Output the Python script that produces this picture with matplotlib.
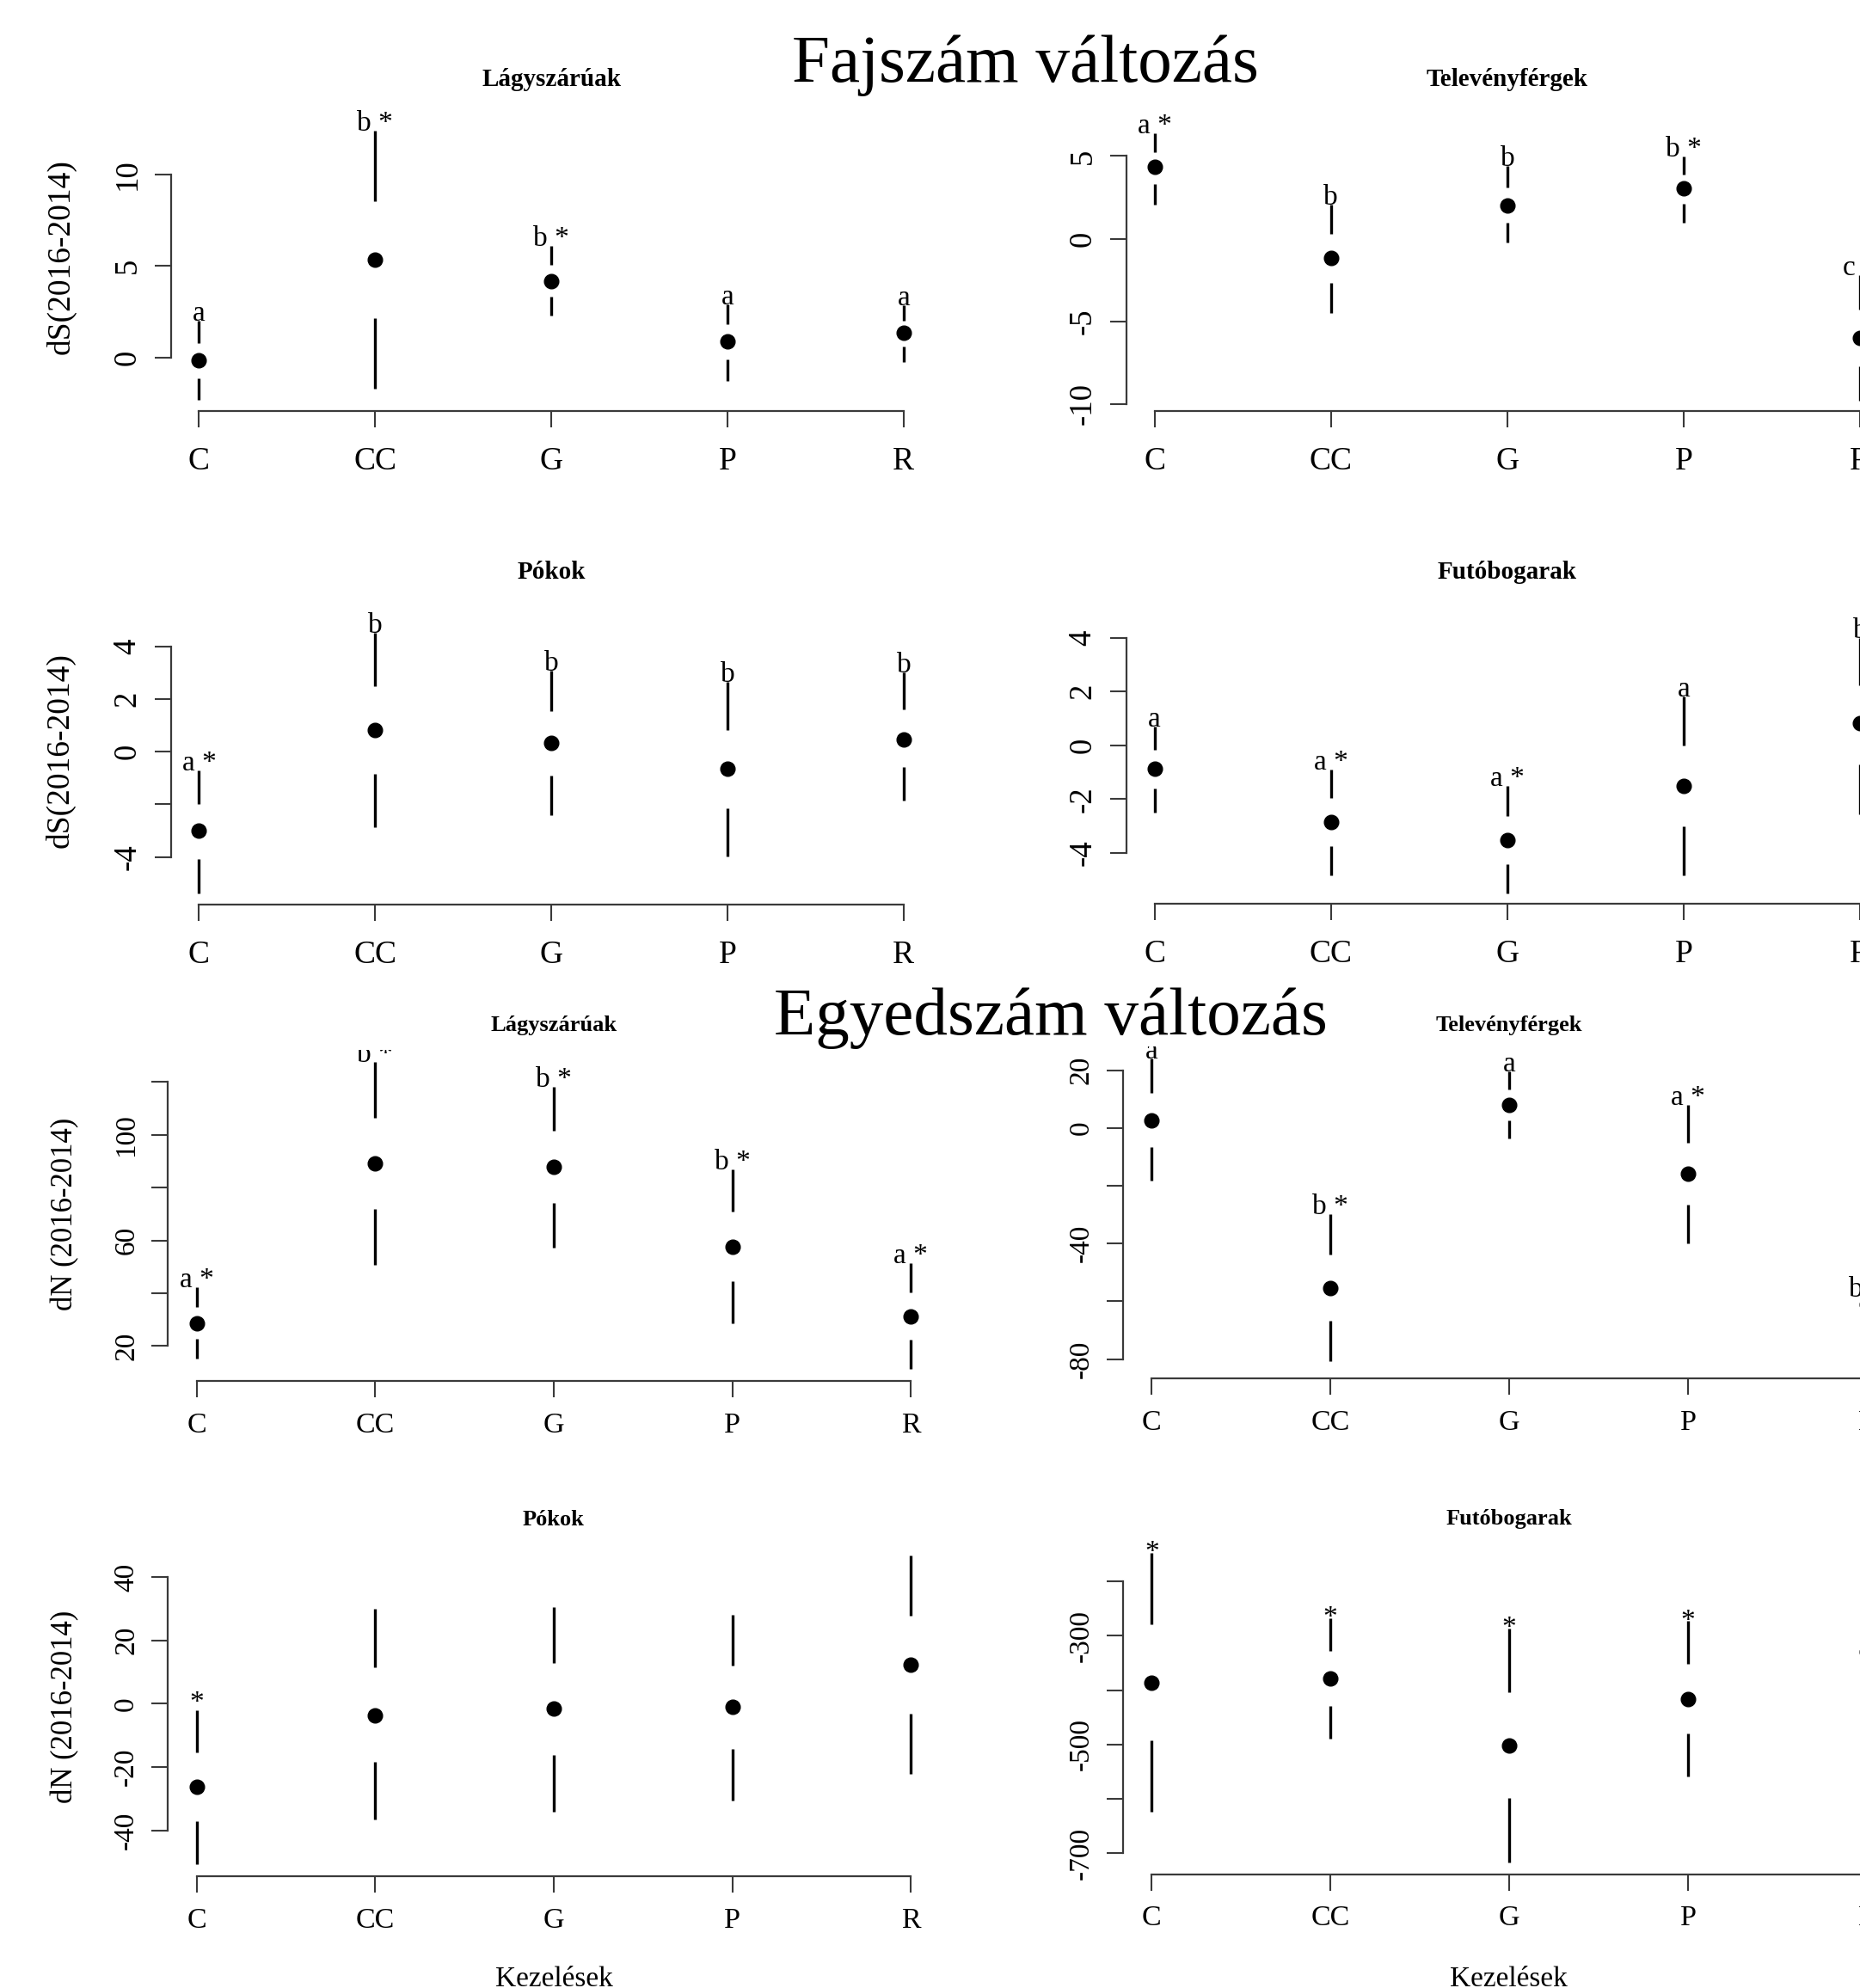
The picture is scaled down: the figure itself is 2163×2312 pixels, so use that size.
import matplotlib
matplotlib.use("Agg")
import matplotlib.pyplot as plt
from matplotlib.transforms import offset_copy

plt.rcParams['font.family'] = ['Liberation Serif', 'DejaVu Serif']

kezelesek = ["C", "CC", "G", "P", "R"]

# Fajszám változás (dS) - átlag, alsó és felső határ, betűjelek
ds_lagy_atlag = [-0.15, 5.33, 4.18, 0.89, 1.34]
ds_lagy_also = [-2.29, -1.67, 2.29, -1.25, -0.25]
ds_lagy_felso = [2.0, 12.38, 6.1, 2.93, 2.84]
ds_lagy_betu = ["a", "b *", "b *", "a", "a"]

ds_telev_atlag = [4.32, -1.17, 1.99, 3.02, -6.02]
ds_telev_also = [2.03, -4.52, -0.24, 0.95, -9.8]
ds_telev_felso = [6.36, 2.08, 4.41, 4.95, -2.21]
ds_telev_betu = ["a *", "b", "b", "b *", "c *"]

ds_pok_atlag = [-3.0, 0.83, 0.33, -0.66, 0.48]
ds_pok_also = [-5.4, -2.88, -2.42, -3.97, -1.87]
ds_pok_felso = [-0.72, 4.53, 3.07, 2.66, 3.01]
ds_pok_betu = ["a *", "b", "b", "b", "b"]

ds_futo_atlag = [-0.86, -2.86, -3.52, -1.5, 0.81]
ds_futo_also = [-2.49, -4.83, -5.52, -4.84, -2.56]
ds_futo_felso = [0.71, -0.89, -1.52, 1.81, 4.0]
ds_futo_betu = ["a", "a *", "a *", "a", "b"]

# Egyedszám változás (dN)
dn_lagy_atlag = [28.7, 89.2, 87.8, 57.6, 31.3]
dn_lagy_also = [15.4, 50.8, 57.2, 28.7, 11.3]
dn_lagy_felso = [42.1, 127.5, 118.2, 87.0, 51.4]
dn_lagy_betu = ["a *", "b *", "b *", "b *", "a *"]

dn_telev_atlag = [2.6, -55.3, 8.0, -15.7, -61.0]
dn_telev_also = [-18.1, -80.8, -3.7, -39.8, -82.5]
dn_telev_felso = [23.9, -29.8, 19.7, 8.0, -58.5]
dn_telev_betu = ["a", "b *", "a", "a *", "b *"]

dn_pok_atlag = [-26.2, -3.6, -1.6, -1.1, 12.3]
dn_pok_also = [-50.6, -36.7, -34.2, -30.6, -22.1]
dn_pok_felso = [-2.0, 30.0, 30.5, 28.1, 46.9]
dn_pok_betu = ["*", "", "", "", ""]

dn_futo_atlag = [-385.9, -378.8, -501.2, -415.8, -330.0]
dn_futo_also = [-623.6, -489.9, -716.1, -558.0, -520.0]
dn_futo_felso = [-147.7, -267.1, -286.2, -273.1, -180.0]
dn_futo_betu = ["*", "*", "*", "*", "*"]

W, H = 2163, 2312
fig = plt.figure(figsize=(W / 100, H / 100), dpi=100)
fig.patch.set_facecolor("white")

AXIS_COL = "#3a3a3a"


def panel(xc, sp, ppu, ref_val, ref_px, atlag, also, felso, betu, cim, cim_y,
          ticks, ticklabels, fs_tick, fs_cim, xpad, clip, betu_dy=0):
    # R-szerű tengelytartomány: adatok +-4%
    lo_all, hi_all = min(also), max(felso)
    r = hi_all - lo_all
    y0, y1 = lo_all - 0.04 * r, hi_all + 0.04 * r
    left = xc - 0.16 * sp
    width = 4.32 * sp
    bottom_px = ref_px + (ref_val - y0) * ppu
    height = (y1 - y0) * ppu
    ax = fig.add_axes([left / W, 1 - bottom_px / H, width / W, height / H])
    ax.set_xlim(0.84, 5.16)
    ax.set_ylim(y0, y1)
    ax.patch.set_alpha(0)

    x = list(range(1, len(kezelesek) + 1))
    betu_tr = offset_copy(ax.transData, fig=fig, x=0, y=betu_dy, units="points")
    for xi, m, lo, hi, b in zip(x, atlag, also, felso, betu):
        g_hi = 0.45 * (hi - m)
        g_lo = 0.45 * (m - lo)
        ax.plot([xi, xi], [m + g_hi, hi], color="black", lw=2.4, solid_capstyle="butt")
        ax.plot([xi, xi], [lo, m - g_lo], color="black", lw=2.4, solid_capstyle="butt")
        if b:
            t = ax.text(xi, hi, b, ha="center", va="baseline", fontsize=24,
                        transform=betu_tr)
            t.set_clip_on(clip)
    ax.plot(x, atlag, "o", color="black", ms=12)

    for s in ["top", "right"]:
        ax.spines[s].set_visible(False)
    ax.spines["left"].set_bounds(ticks[0], ticks[-1])
    ax.spines["bottom"].set_bounds(1, 5)
    for s in ["left", "bottom"]:
        ax.spines[s].set_color(AXIS_COL)
        ax.spines[s].set_linewidth(1.6)

    ax.set_xticks(x, kezelesek)
    ax.set_yticks(ticks, ticklabels)
    ax.tick_params(length=14, width=1.5, color=AXIS_COL)
    ax.tick_params(axis="x", labelsize=fs_tick, pad=xpad)
    ax.tick_params(axis="y", labelsize=fs_tick - 0.5, pad=10)
    for lab in ax.get_yticklabels():
        lab.set_rotation(90)
        lab.set_va("center")

    fig.text((xc + 2 * sp) / W, 1 - cim_y / H, cim, ha="center", va="center",
             fontsize=fs_cim, fontweight="bold")
    return ax


# Fajszám változás
panel(231.5, 204.85, 21.36, 0, 416.1, ds_lagy_atlag, ds_lagy_also, ds_lagy_felso,
      ds_lagy_betu, "Lágyszárúak", 92, [0, 5, 10], ["0", "5", "10"], 27, 21, 16, False)
panel(1342.7, 205.1, 19.22, 0, 277.5, ds_telev_atlag, ds_telev_also, ds_telev_felso,
      ds_telev_betu, "Televényférgek", 92, [-10, -5, 0, 5], ["-10", "-5", "0", "5"], 27, 21, 16, False)
panel(231.5, 204.85, 30.58, 0, 874.3, ds_pok_atlag, ds_pok_also, ds_pok_felso,
      ds_pok_betu, "Pókok", 666, [-4, -2, 0, 2, 4], ["-4", "", "0", "2", "4"], 27, 21, 16, False)
panel(1342.7, 205.1, 31.25, 0, 866.8, ds_futo_atlag, ds_futo_also, ds_futo_felso,
      ds_futo_betu, "Futóbogarak", 666, [-4, -2, 0, 2, 4], ["-4", "-2", "0", "2", "4"], 27, 21, 16, False)

# Egyedszám változás
panel(228.7, 207.65, 3.0725, 20, 1565.4, dn_lagy_atlag, dn_lagy_also, dn_lagy_felso,
      dn_lagy_betu, "Lágyszárúak", 1192, [20, 40, 60, 80, 100, 120],
      ["20", "", "60", "", "100", ""], 24.5, 19, 12, True)
panel(1339.3, 207.9, 3.361, 0, 1311.8, dn_telev_atlag, dn_telev_also, dn_telev_felso,
      dn_telev_betu, "Televényférgek", 1192, [-80, -60, -40, -20, 0, 20],
      ["-80", "", "-40", "", "0", "20"], 24.5, 19, 12, True)
panel(228.7, 207.65, 3.681, 0, 1981.3, dn_pok_atlag, dn_pok_also, dn_pok_felso,
      dn_pok_betu, "Pókok", 1767, [-40, -20, 0, 20, 40],
      ["-40", "-20", "0", "20", "40"], 24.5, 19, 12, True)
panel(1339.3, 207.9, 0.6323, -300, 1902.4, dn_futo_atlag, dn_futo_also, dn_futo_felso,
      dn_futo_betu, "Futóbogarak", 1767, [-700, -600, -500, -400, -300, -200],
      ["-700", "", "-500", "", "-300", ""], 24.5, 19, 12, False, betu_dy=-6)

# Tengelyfeliratok
fig.text(71.5 / W, 1 - 299 / H, "dS(2016-2014)", rotation=90, ha="center", va="center", fontsize=27)
fig.text(70 / W, 1 - 873 / H, "dS(2016-2014)", rotation=90, ha="center", va="center", fontsize=27)
fig.text(75.8 / W, 1 - 1412 / H, "dN (2016-2014)", rotation=90, ha="center", va="center", fontsize=25)
fig.text(75.8 / W, 1 - 1985 / H, "dN (2016-2014)", rotation=90, ha="center", va="center", fontsize=25)
fig.text(644 / W, 1 - 2310 / H, "Kezelések", ha="center", va="baseline", fontsize=24)
fig.text(1754 / W, 1 - 2310 / H, "Kezelések", ha="center", va="baseline", fontsize=24)

# Főcímek
fig.text(1192 / W, 1 - 95 / H, "Fajszám változás", ha="center", va="baseline", fontsize=57)
fig.text(1222 / W, 1 - 1203 / H, "Egyedszám változás", ha="center", va="baseline", fontsize=57)

fig.savefig("out.png", dpi=100, facecolor="white")
